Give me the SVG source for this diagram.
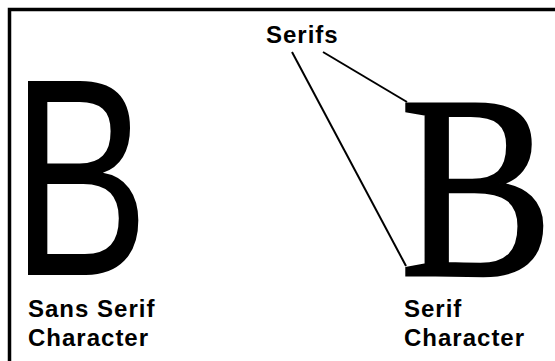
<svg xmlns="http://www.w3.org/2000/svg" width="555" height="361" viewBox="0 0 555 361">
  <style>
    .label { font-family: "Liberation Sans", Arial, sans-serif; font-weight: bold; font-size: 24px; letter-spacing: 1px; fill: #000; }
    .sansB { font-family: "Liberation Sans", Arial, sans-serif; font-size: 282px; fill: #000; }
    .serifB { font-family: "Liberation Serif", "Times New Roman", serif; font-size: 261px; fill: #000; stroke: #000; stroke-width: 3; }
    .conn { stroke: #000; stroke-width: 2; fill: none; }
  </style>
  <rect x="0" y="0" width="555" height="361" fill="#fff"/>
  <path d="M9.5 361 V9.5 H555" fill="none" stroke="#000" stroke-width="3.5"/>
  <g id="sans-serif-node">
    <text class="sansB" transform="translate(11,275) scale(0.735,1)" x="0" y="0">B</text>
    <text class="label" x="28" y="317">Sans Serif</text>
    <text class="label" x="28" y="346">Character</text>
  </g>
  <g id="serif-node">
    <text class="serifB" transform="translate(400,275) scale(0.88,1)" x="0" y="0">B</text>
    <text class="label" x="404" y="317">Serif</text>
    <text class="label" x="404" y="346">Character</text>
  </g>
  <g id="serifs-label">
    <text class="label" x="266" y="43">Serifs</text>
  </g>
  <g id="connectors">
    <line class="conn" x1="292" y1="52" x2="406" y2="266"/>
    <line class="conn" x1="323" y1="52" x2="407" y2="102"/>
  </g>
</svg>
